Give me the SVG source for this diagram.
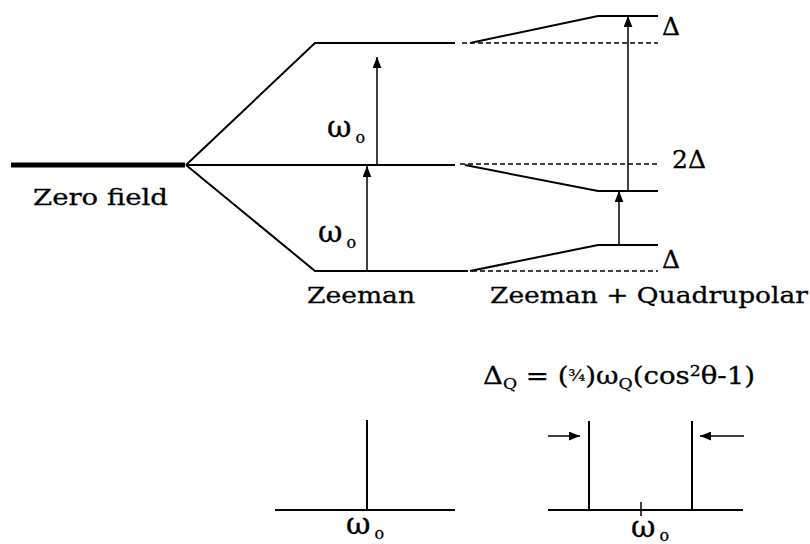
<svg xmlns="http://www.w3.org/2000/svg" width="810" height="544" viewBox="0 0 810 544">
<style>
text{font-family:"DejaVu Serif","Liberation Serif",serif;fill:#000;stroke:#000;stroke-width:0.3}
.lvl{stroke:#000;stroke-width:2;fill:none}
.thin{stroke:#000;stroke-width:1.5;fill:none}
.dash{stroke:#000;stroke-width:1.5;stroke-dasharray:5 3;fill:none}
.lab{font-size:23px}
.dl{font-size:25px}
.om{font-size:30px}
.sub{font-size:16px}
.fs{font-size:15px}
</style>
<defs>
<marker id="ah" viewBox="0 0 10 8" refX="10" refY="4" markerWidth="11" markerHeight="9" markerUnits="userSpaceOnUse" orient="auto">
<path d="M0,0 L10,4 L0,8 Z" fill="#000"/>
</marker>
</defs>
<rect width="810" height="544" fill="#fff"/>
<g id="levels">
<line x1="11" y1="165" x2="185" y2="165" stroke="#000" stroke-width="5"/>
<polyline class="lvl" points="186,165 315,43 455,43"/>
<line class="lvl" x1="186" y1="165" x2="455" y2="165"/>
<polyline class="lvl" points="186,165 315,271 468,271"/>
<polyline class="lvl" points="470,43 598,16 658,16"/>
<polyline class="lvl" points="465,165 598,191 658,191"/>
<polyline class="lvl" points="470,271 598,245 658,245"/>
<line class="dash" x1="462" y1="43" x2="658" y2="43"/>
<line class="dash" x1="460" y1="164" x2="658" y2="164"/>
<line class="dash" x1="472" y1="271" x2="658" y2="271"/>
</g>
<g id="connectors">
<line class="thin" x1="377" y1="165" x2="377" y2="57" marker-end="url(#ah)"/>
<line class="thin" x1="367" y1="271" x2="367" y2="166" marker-end="url(#ah)"/>
<line class="thin" x1="628" y1="191" x2="628" y2="16" marker-end="url(#ah)"/>
<line class="thin" x1="619" y1="245" x2="619" y2="191" marker-end="url(#ah)"/>
</g>
<g id="labels">
<text class="lab" x="33" y="205" textLength="135" lengthAdjust="spacingAndGlyphs">Zero field</text>
<text x="327" y="137"><tspan class="om">ω</tspan><tspan class="sub" dx="4" dy="6">o</tspan></text>
<text x="318" y="242"><tspan class="om">ω</tspan><tspan class="sub" dx="4" dy="6">o</tspan></text>
<text class="lab" x="307" y="303" textLength="108" lengthAdjust="spacingAndGlyphs">Zeeman</text>
<text class="lab" x="490" y="303" textLength="318" lengthAdjust="spacingAndGlyphs">Zeeman + Quadrupolar</text>
<text class="dl" x="662" y="35">Δ</text>
<text class="dl" x="672" y="168">2Δ</text>
<text class="dl" x="662" y="268">Δ</text>
</g>
<g id="spectrum-zeeman">
<line class="lvl" x1="275" y1="510" x2="455" y2="510"/>
<line class="lvl" x1="367" y1="420" x2="367" y2="510"/>
<text x="346" y="534"><tspan class="om">ω</tspan><tspan class="sub" dx="4" dy="5">o</tspan></text>
</g>
<g id="spectrum-quad">
<line class="lvl" x1="548" y1="510" x2="743" y2="510"/>
<line class="lvl" x1="589" y1="421" x2="589" y2="510"/>
<line class="lvl" x1="692" y1="421" x2="692" y2="510"/>
<line class="thin" x1="641" y1="502" x2="641" y2="516"/>
<line class="thin" x1="548" y1="436" x2="580" y2="436" marker-end="url(#ah)"/>
<line class="thin" x1="744" y1="436" x2="700" y2="436" marker-end="url(#ah)"/>
<text x="631" y="537"><tspan class="om">ω</tspan><tspan class="sub" dx="4" dy="4">o</tspan></text>
<text x="483" y="384" style="font-size:24px" textLength="272" lengthAdjust="spacingAndGlyphs">Δ<tspan class="fs" dy="5">Q</tspan><tspan dy="-5"> = (</tspan><tspan class="fs" dy="-3">¾</tspan><tspan dy="3">)ω</tspan><tspan class="fs" dy="5">Q</tspan><tspan dy="-5">(cos</tspan><tspan class="fs" dy="-8">2</tspan><tspan dy="8">θ-1)</tspan></text>
</g>
</svg>
